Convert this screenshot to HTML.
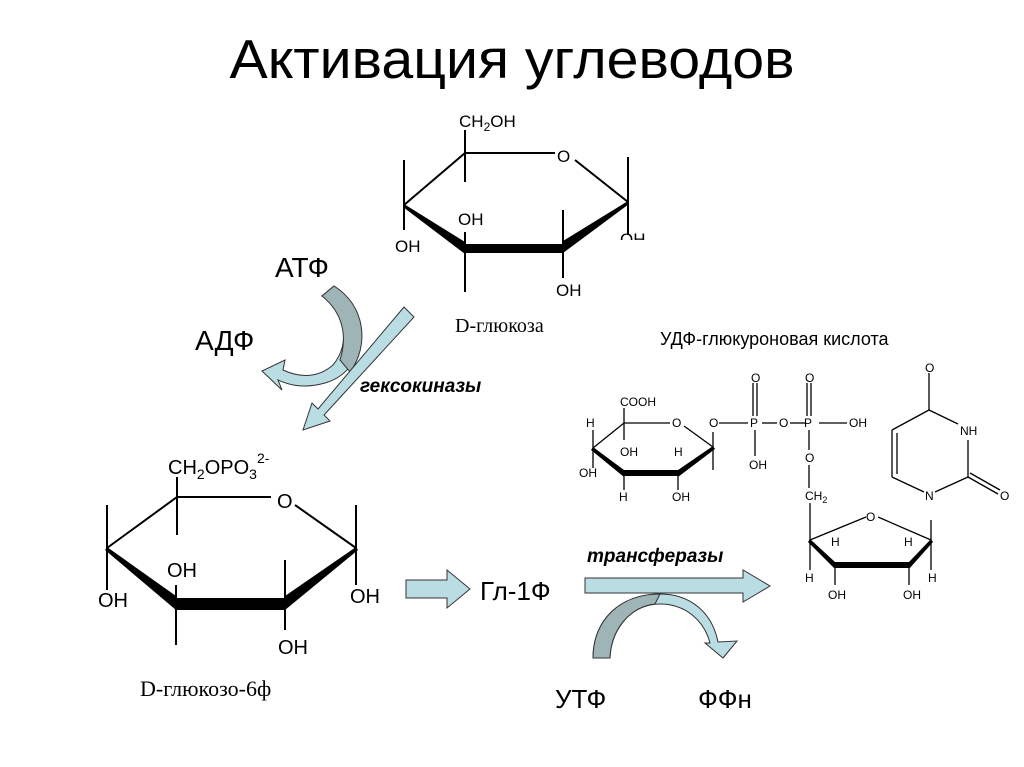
<!DOCTYPE html>
<html><head><meta charset="utf-8"><style>
html,body{margin:0;padding:0;background:#fff;}
svg{display:block}
text{font-family:"Liberation Sans",sans-serif;fill:#000}
.s{font-family:"Liberation Serif",serif}
</style></head><body>
<svg width="1024" height="767" viewBox="0 0 1024 767" xmlns="http://www.w3.org/2000/svg">
<text x="512" y="78" font-size="55" text-anchor="middle" textLength="565" lengthAdjust="spacingAndGlyphs">Активация углеводов</text>

<!-- top glucose -->
<g stroke="#000" stroke-width="2" fill="none">
<polyline points="404,205 465,153 555,153"/>
<line x1="575" y1="160" x2="628" y2="202"/>
<line x1="404" y1="160" x2="404" y2="230"/>
<line x1="465" y1="130" x2="465" y2="182"/>
<line x1="628" y1="157" x2="628" y2="235"/>
<line x1="465" y1="232" x2="465" y2="292"/>
<line x1="563" y1="210" x2="563" y2="278"/>
</g>
<polygon points="404,204 465,242 465,254 403,207" fill="#000"/>
<polygon points="628,201 563,241 563,253 629,204" fill="#000"/>
<rect x="465" y="244" width="98" height="9" fill="#000"/>
<text x="459" y="127" font-size="17">CH<tspan font-size="12" dy="4">2</tspan><tspan dy="-4">OH</tspan></text>
<text x="557" y="162" font-size="17">O</text>
<text x="458" y="225" font-size="17">OH</text>
<text x="395" y="252" font-size="17">OH</text>
<text x="556" y="296" font-size="17">OH</text>
<text x="620" y="245" font-size="17">OH</text>
<rect x="615" y="240" width="40" height="10" fill="#fff"/>
<text x="455" y="332" class="s" font-size="20">D-глюкоза</text>

<!-- ATP arrows -->
<text x="275" y="277" font-size="28">АТФ</text>
<text x="195" y="350" font-size="28">АДФ</text>
<path d="M334,286 C370,310 370,370 325,383 C300,390 285,383 278,380 L282,390 L262,371 L285,360 L283,370 C300,378 318,378 333,365 C352,342 344,310 322,296 Z" fill="#b9dde3" stroke="#333" stroke-width="1"/>
<path d="M334,286 C365,305 370,345 350,372 L340,360 C348,335 342,312 322,296 Z" fill="#9fb4b6" stroke="#333" stroke-width="1"/>
<polygon points="404,307 414,317 324,415 330,421 303,430 312,403 318,409" fill="#b9dde3" stroke="#333" stroke-width="1"/>
<text x="360" y="392" font-size="19" font-weight="bold" font-style="italic">гексокиназы</text>

<!-- G6P ring -->
<g stroke="#000" stroke-width="2" fill="none">
<polyline points="107,548 177,497 271,497"/>
<line x1="295" y1="505" x2="356" y2="548"/>
<line x1="107" y1="505" x2="107" y2="590"/>
<line x1="177" y1="477" x2="177" y2="535"/>
<line x1="356" y1="505" x2="356" y2="585"/>
<line x1="176" y1="585" x2="176" y2="645"/>
<line x1="285" y1="560" x2="285" y2="630"/>
</g>
<polygon points="107,547 176,596 176,610 105,550" fill="#000"/>
<polygon points="356,547 285,596 285,610 358,550" fill="#000"/>
<rect x="176" y="598" width="109" height="12" fill="#000"/>
<text x="168" y="474" font-size="20">CH<tspan font-size="14" dy="5">2</tspan><tspan dy="-5">OPO</tspan><tspan font-size="14" dy="5">3</tspan><tspan font-size="14" dy="-16">2-</tspan></text>
<text x="277" y="508" font-size="20">O</text>
<text x="167" y="577" font-size="20">OH</text>
<text x="98" y="607" font-size="20">OH</text>
<text x="350" y="603" font-size="20">OH</text>
<text x="278" y="654" font-size="20">OH</text>
<text x="140" y="696" class="s" font-size="22">D-глюкозо-6ф</text>

<polygon points="406,580 447,580 447,570 470,589 447,608 447,598 406,598" fill="#b9dde3" stroke="#333" stroke-width="1"/>
<text x="480" y="600" font-size="26">Гл-1Ф</text>
<text x="587" y="562" font-size="19" font-weight="bold" font-style="italic">трансферазы</text>
<path d="M593,658 C593,620 620,594 660,594 C690,594 712,612 718,642 L737,641 L723,658 L705,643 L710,643 C704,620 685,604 660,604 C632,604 611,628 610,658 Z" fill="#b9dde3" stroke="#333" stroke-width="1"/>
<path d="M593,658 C593,620 620,594 660,594 L655,604 C632,606 611,628 610,658 Z" fill="#9fb4b6" stroke="#333" stroke-width="1"/>
<polygon points="585,578 743,578 743,570 770,586 743,602 743,593 585,593" fill="#b9dde3" stroke="#333" stroke-width="1"/>
<text x="555" y="708" font-size="26">УТФ</text>
<text x="698" y="708" font-size="26">ФФн</text>

<text x="660" y="345" font-size="18">УДФ-глюкуроновая кислота</text>

<!-- UDP-glucuronic acid -->
<g stroke="#000" stroke-width="1.3" fill="none">
<polyline points="593,448 624,423 670,423"/>
<line x1="684" y1="426" x2="713" y2="447"/>
<line x1="624" y1="408" x2="624" y2="440"/>
<line x1="593" y1="430" x2="593" y2="468"/>
<line x1="713" y1="432" x2="713" y2="470"/>
<line x1="624" y1="475" x2="624" y2="490"/>
<line x1="678" y1="475" x2="678" y2="490"/>
<line x1="719" y1="423" x2="748" y2="423"/>
<line x1="762" y1="423" x2="777" y2="423"/>
<line x1="790" y1="423" x2="806" y2="423"/>
<line x1="819" y1="423" x2="847" y2="423"/>
<line x1="753" y1="383" x2="753" y2="416"/><line x1="757" y1="383" x2="757" y2="416"/>
<line x1="807" y1="383" x2="807" y2="416"/><line x1="811" y1="383" x2="811" y2="416"/>
<line x1="755" y1="430" x2="755" y2="456"/>
<line x1="809" y1="430" x2="809" y2="450"/>
<line x1="809" y1="465" x2="809" y2="488"/>
<line x1="810" y1="503" x2="810" y2="570"/>
<line x1="810" y1="540" x2="866" y2="517"/>
<line x1="878" y1="517" x2="931" y2="540"/>
<line x1="931" y1="520" x2="931" y2="570"/>
<line x1="835" y1="565" x2="835" y2="585"/>
<line x1="909" y1="565" x2="909" y2="585"/>
<line x1="929" y1="410" x2="929" y2="373"/>
<line x1="929" y1="410" x2="892" y2="430"/>
<line x1="892" y1="430" x2="892" y2="477"/><line x1="897" y1="433" x2="897" y2="474"/>
<line x1="892" y1="477" x2="924" y2="492"/>
<line x1="935" y1="492" x2="968" y2="477"/>
<line x1="968" y1="477" x2="968" y2="440"/>
<line x1="929" y1="410" x2="958" y2="424"/>
<line x1="968" y1="477" x2="998" y2="494"/><line x1="970" y1="473" x2="1000" y2="490"/>
</g>
<polygon points="593,447 624,470 624,477 591,450" fill="#000"/>
<polygon points="713,446 678,470 678,477 715,449" fill="#000"/>
<rect x="624" y="470" width="54" height="6" fill="#000"/>
<polygon points="810,539 835,562 835,569 808,542" fill="#000"/>
<polygon points="931,539 909,562 909,569 933,542" fill="#000"/>
<rect x="835" y="562" width="74" height="6" fill="#000"/>
<g font-size="12">
<text x="620" y="406">COOH</text>
<text x="586" y="427">H</text>
<text x="672" y="427">O</text>
<text x="579" y="477">OH</text>
<text x="620" y="456">OH</text>
<text x="674" y="456">H</text>
<text x="619" y="501">H</text>
<text x="672" y="501">OH</text>
<text x="709" y="427">O</text>
<text x="750" y="427">P</text>
<text x="779" y="427">O</text>
<text x="804" y="427">P</text>
<text x="849" y="427">OH</text>
<text x="751" y="382">O</text>
<text x="805" y="382">O</text>
<text x="749" y="469">OH</text>
<text x="805" y="462">O</text>
<text x="805" y="500">CH<tspan font-size="9" dy="3">2</tspan></text>
<text x="866" y="521">O</text>
<text x="831" y="546">H</text>
<text x="904" y="546">H</text>
<text x="805" y="582">H</text>
<text x="928" y="582">H</text>
<text x="828" y="599">OH</text>
<text x="903" y="599">OH</text>
<text x="925" y="372">O</text>
<text x="960" y="435">NH</text>
<text x="925" y="500">N</text>
<text x="1000" y="500">O</text>
</g>
</svg>
</body></html>
